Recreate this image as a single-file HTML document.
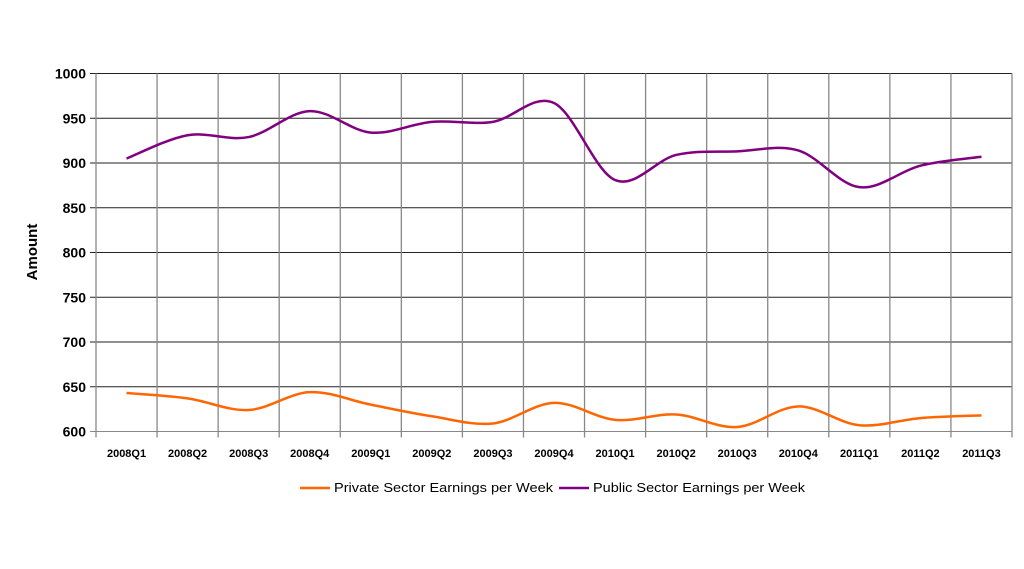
<!DOCTYPE html>
<html><head><meta charset="utf-8"><style>
body{margin:0;background:#fff;}
svg{display:block;font-family:"Liberation Sans",sans-serif;}
</style></head><body>
<svg id="chart" width="1024" height="569">
<g id="grid"></g>
<g id="axes"></g>
<g id="series"></g>
<text x="37" y="252" font-size="15" font-weight="600" text-anchor="middle" transform="rotate(-90 37 252)" fill="#000">Amount</text>
<g>
<g>
<line x1="300" y1="488" x2="330" y2="488" stroke="#ff6600" stroke-width="2.5"/>
<text x="334" y="492" font-size="13" textLength="219" lengthAdjust="spacingAndGlyphs" fill="#000">Private Sector Earnings per Week</text></g>
<g>
<line x1="559" y1="488" x2="589" y2="488" stroke="#800080" stroke-width="2.5"/>
<text x="593" y="492" font-size="13" textLength="212" lengthAdjust="spacingAndGlyphs" fill="#000">Public Sector Earnings per Week</text></g>
</g>
</svg>
<script>
const categories=["2008Q1","2008Q2","2008Q3","2008Q4","2009Q1","2009Q2","2009Q3","2009Q4","2010Q1","2010Q2","2010Q3","2010Q4","2011Q1","2011Q2","2011Q3"];
const privateValues=[643,637,624,644,630,617,609,632,613,619,605,628,607,615,618];
const publicValues=[905,931,929,958,934,946,946,967,881,909,913,914,873,897,907];
const yTicks=[600,650,700,750,800,850,900,950,1000];
const NS="http://www.w3.org/2000/svg";
const X0=96,X1=1012,Y0=431.5,Y1=73.5,YMIN=600,YMAX=1000;
const bw=(X1-X0)/categories.length;
function xs(i){return X0+bw*(i+0.5);}
function ys(v){return Y0-(v-YMIN)/(YMAX-YMIN)*(Y0-Y1);}
function mk(tag,attrs,parent){const e=document.createElementNS(NS,tag);for(const k in attrs)e.setAttribute(k,attrs[k]);parent.appendChild(e);return e;}
const grid=document.getElementById('grid'),axes=document.getElementById('axes'),series=document.getElementById('series');
yTicks.forEach(t=>{
 const l=mk('line',{x1:X0-6,x2:X1,y1:ys(t),y2:ys(t),stroke:t===YMIN?'#888':'#222','stroke-width':1},grid);
 
 
 const tx=mk('text',{x:X0-10,y:ys(t)+5,'font-size':14,'font-weight':'600','text-anchor':'end',fill:'#000'},axes);
 tx.textContent=t;
 
 
});
for(let i=0;i<=categories.length;i++){
 const x=X0+bw*i;
 const l=mk('line',{x1:x,x2:x,y1:Y1,y2:Y0+6,stroke:'#888','stroke-width':1.3},grid);
 
 
}
categories.forEach((c,i)=>{
 const tx=mk('text',{x:xs(i),y:457,'font-size':11,'text-anchor':'middle',fill:'#000','font-weight':'bold'},axes);
 tx.textContent=c;
 
 
});
function smooth(vals){
 const p=vals.map((v,i)=>[xs(i),ys(v)]);
 let d='M'+p[0][0]+','+p[0][1];
 for(let i=0;i<p.length-1;i++){
  const a=p[Math.max(i-1,0)],b=p[i],c=p[i+1],e=p[Math.min(i+2,p.length-1)];
  const t=1/6;
  d+=' C'+(b[0]+(c[0]-a[0])*t)+','+(b[1]+(c[1]-a[1])*t)+' '+(c[0]-(e[0]-b[0])*t)+','+(c[1]-(e[1]-b[1])*t)+' '+c[0]+','+c[1];
 }
 return d;
}
const p1=mk('path',{d:smooth(privateValues),fill:'none',stroke:'#ff6600','stroke-width':2.5},series);


const p2=mk('path',{d:smooth(publicValues),fill:'none',stroke:'#800080','stroke-width':2.5},series);


</script>
</body></html>
